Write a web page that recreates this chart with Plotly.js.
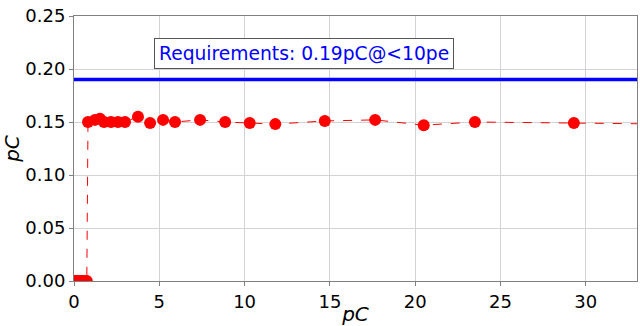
<!DOCTYPE html>
<html>
<head>
<meta charset="utf-8">
<script src="https://cdn.plot.ly/plotly-3.0.1.min.js"></script>
<style>html,body{margin:0;padding:0;background:#fff;} #chart{width:640px;height:326px;}</style>
</head>
<body>
<div id="chart"></div>
<script>
const xValues = [0, 0.1, 0.2, 0.3, 0.4, 0.5, 0.6, 0.7, 0.75, 0.82, 1.23, 1.52, 1.76, 2.17, 2.58, 2.99, 3.75, 4.46, 5.22, 5.92, 7.39, 8.86, 10.3, 11.8, 14.7, 17.65, 20.5, 23.5, 29.3, 35];
const yValues = [0, 0, 0, 0, 0, 0, 0, 0, 0, 0.150, 0.152, 0.153, 0.150, 0.150, 0.150, 0.150, 0.155, 0.149, 0.152, 0.150, 0.152, 0.150, 0.149, 0.148, 0.151, 0.152, 0.147, 0.150, 0.149, 0.148];
const requirement = 0.19;
const reqLabel = "Requirements: 0.19pC@<10pe";
const xTicks = [0, 5, 10, 15, 20, 25, 30];
const yTicks = [0, 0.05, 0.10, 0.15, 0.20, 0.25];

const data = [
  {x: xValues, y: yValues, type: 'scatter', mode: 'lines+markers',
   line: {color: 'red', width: 1, dash: 'dash'},
   marker: {color: 'red', size: 12}, cliponaxis: true, showlegend: false}
];
const layout = {
  width: 640, height: 326,
  margin: {l: 74, r: 3, t: 16, b: 45},
  paper_bgcolor: '#fff', plot_bgcolor: '#fff',
  font: {family: 'DejaVu Sans', size: 18, color: '#000'},
  xaxis: {range: [0, 33], tickvals: xTicks, ticktext: xTicks.map(String),
    showgrid: true, gridcolor: '#d3d3d3', gridwidth: 1, zeroline: false,
    showline: true, linecolor: '#808080', linewidth: 1, mirror: true,
    ticks: 'outside', ticklen: 4, tickcolor: '#808080',
    title: {text: '<i>pC</i>', font: {size: 20}, standoff: 2}},
  yaxis: {range: [0, 0.25], tickvals: yTicks, tickformat: '.2f',
    showgrid: true, gridcolor: '#d3d3d3', gridwidth: 1, zeroline: false,
    showline: true, linecolor: '#808080', linewidth: 1, mirror: true,
    ticks: 'outside', ticklen: 4, tickcolor: '#808080',
    title: {text: '<i>pC</i>', font: {size: 20}, standoff: 6}},
  shapes: [
    {type: 'line', xref: 'paper', x0: 0, x1: 1, yref: 'y', y0: requirement, y1: requirement,
     line: {color: 'blue', width: 3.5}}
  ],
  annotations: [
    {xref: 'paper', yref: 'paper', x: 0.408, y: 0.86, xanchor: 'center', yanchor: 'middle',
     text: reqLabel, showarrow: false,
     font: {color: 'blue', size: 18.7, family: 'DejaVu Sans'},
     bgcolor: '#fff', bordercolor: '#555', borderwidth: 1, borderpad: 4}
  ]
};
Plotly.newPlot('chart', data, layout, {displayModeBar: false, staticPlot: true});
</script>
</body>
</html>
